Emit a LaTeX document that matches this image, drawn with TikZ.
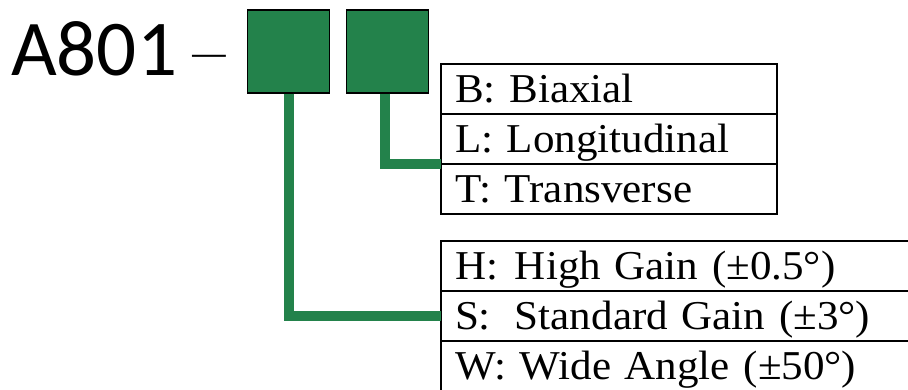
\documentclass[tikz,border=0pt]{standalone}
\usepackage{fontspec}
\setmainfont{Liberation Serif}[FakeStretch=1.05]
\newfontfamily\calibri{Carlito}
\usepackage{graphicx}
\usepackage{tikz}
\usetikzlibrary{positioning}
\definecolor{codegreen}{RGB}{35,130,75}

\begin{document}
\begin{tikzpicture}[x=1pt, y=-1pt,
    codebox/.style={draw=black, line width=1.3pt, fill=codegreen, minimum width=82pt, minimum height=83pt, inner sep=0pt},
    optrow/.style={draw=black, line width=1.5pt, outer sep=0pt, anchor=north west, minimum height=50pt,
        inner xsep=14pt, inner ysep=0pt, text height=38pt, text depth=12pt, align=left,
        font=\fontsize{41}{41}\selectfont},
    link/.style={draw=codegreen, line width=10pt}]
\useasboundingbox (0, 0) rectangle (908, 389);
% part number
\node[anchor=base west, inner sep=0pt, font=\calibri\fontsize{79}{79}\selectfont] (model) at (11, 75) {A801};
\node[anchor=base west, inner sep=0pt, font=\calibri\fontsize{33}{33}\selectfont] (dash) at (188, 65) {\scalebox{1.4}[1]{—}};
\node[codebox] (gainbox) at (288.5, 51.5) {};
\node[codebox, right=16pt of gainbox] (axisbox) {};
% axis options
\node[optrow, text width=308pt] (biax) at (441, 64) {B: Biaxial};
\node[optrow, text width=308pt, below=0pt of biax] (longi) {L: Longitudinal};
\node[optrow, text width=308pt, below=0pt of longi] (trans) {T: Transverse};
% gain options
\node[optrow, text width=452pt] (high) at (441, 241) {\makebox[60pt][l]{H:}High Gain (±0.5°)};
\node[optrow, text width=452pt, below=0pt of high] (std) {\makebox[60pt][l]{S:}Standard Gain (±3°)};
\node[optrow, text width=452pt, below=0pt of std] (wide) {W: Wide Angle (±50°)};
\draw[link] ([xshift=-3pt]axisbox.south) |- (longi.south west);
\draw[link] (gainbox.south) |- (std.west);
\end{tikzpicture}
\end{document}
